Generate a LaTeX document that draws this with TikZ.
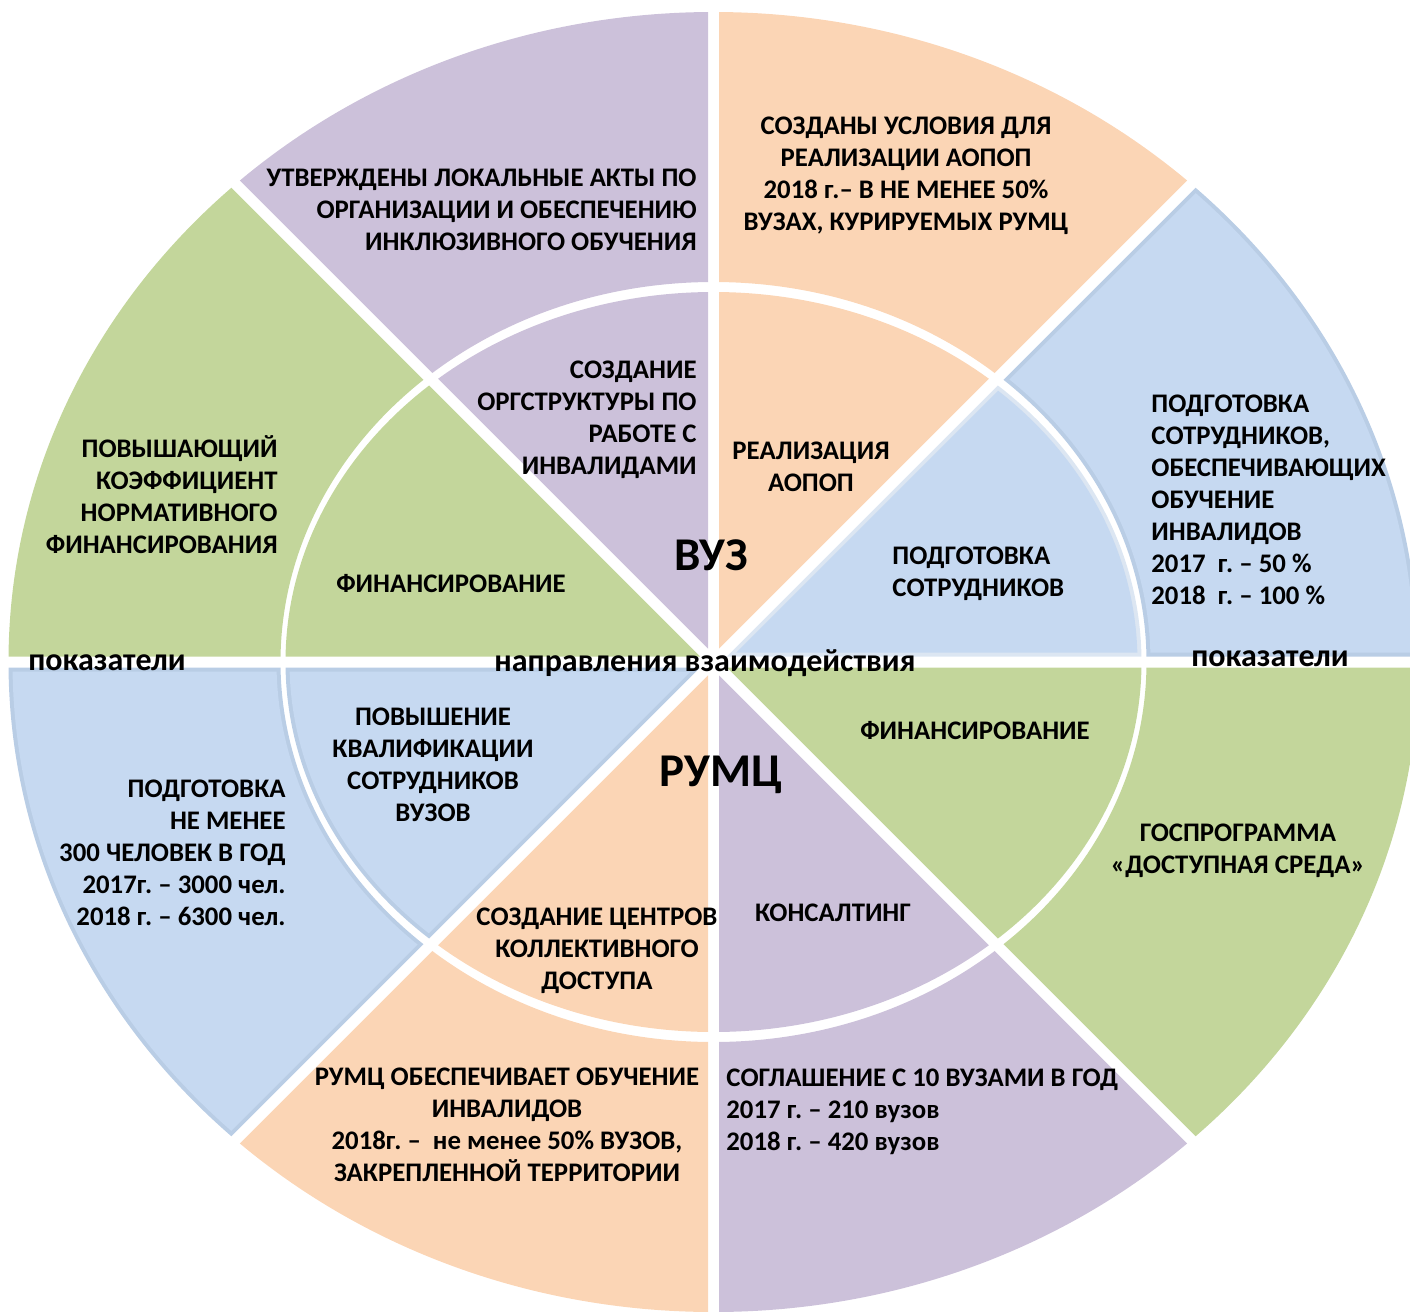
\documentclass[tikz,border=0pt]{standalone}
\usepackage{fontspec}
\setmainfont{Carlito}
\frenchspacing
\definecolor{cpur}{HTML}{CCC1DA}
\definecolor{cora}{HTML}{FBD5B5}
\definecolor{cblu}{HTML}{C6D9F1}
\definecolor{cgrn}{HTML}{C3D69B}
\definecolor{cbld}{HTML}{B9CDE5}
\definecolor{cbll}{HTML}{DCE6F2}
% #1 start angle, #2 offset px, #3 inner rx pt, #4 inner ry pt, #5 outer rx pt, #6 outer ry pt, #7 colour
\newcommand\mysect[7]{%
  \begin{scope}
    \pgfmathsetmacro\wa{#1}%
    \pgfmathsetmacro\wb{#1+45}%
    \pgfmathsetmacro\wm{#1+22.5}%
    \pgfmathsetmacro\wd{#2/sin(22.5)}%
    \clip (\wm:\wd) -- +(\wa:2500) -- +(\wb:2500) -- cycle;
    \fill[#7, even odd rule] (0,0) ellipse [x radius=#5pt, y radius=#6pt]
                             (0,0) ellipse [x radius=#3pt, y radius=#4pt];
  \end{scope}}
\tikzset{
  lbl/.style={font=\bfseries\fontsize{13.4}{16}\selectfont, inner sep=0pt},
  big/.style={font=\bfseries\fontsize{23.5}{26}\selectfont, inner sep=0pt},
  mid/.style={font=\bfseries\fontsize{16}{19}\selectfont, inner sep=0pt}
}
\begin{document}
\begin{tikzpicture}[x=0.5pt,y=-0.5pt]
\useasboundingbox (0,0) rectangle (1410,1312);
\begin{scope}
\clip (0,0) rectangle (1410,1312);
\begin{scope}[shift={(713.5,662)}]
  % outer ring
  \mysect{0}{5.5}{216.5}{190}{352.5}{325}{cgrn}
  \mysect{45}{5.5}{216.5}{190}{352.5}{325}{cpur}
  \mysect{90}{5.5}{216.5}{190}{352.5}{325}{cora}
  \mysect{135}{5.5}{216.5}{190}{352.5}{325}{cbld}
  \mysect{135}{9.5}{218.5}{192}{350.5}{323}{cblu}
  \mysect{180}{5.5}{216.5}{190}{352.5}{325}{cgrn}
  \mysect{225}{5.5}{216.5}{190}{352.5}{325}{cpur}
  \mysect{270}{5.5}{216.5}{190}{352.5}{325}{cora}
  \mysect{315}{5.5}{216.5}{190}{352.5}{325}{cbld}
  \mysect{315}{9.5}{218.5}{192}{350.5}{323}{cblu}
  % inner ring
  \mysect{0}{5.5}{1}{1}{214}{185}{cgrn}
  \mysect{45}{5.5}{1}{1}{214}{185}{cpur}
  \mysect{90}{5.5}{1}{1}{214}{185}{cora}
  \mysect{135}{5.5}{1}{1}{214}{185}{cbld}
  \mysect{135}{9.5}{1}{1}{212}{183}{cblu}
  \mysect{180}{5.5}{1}{1}{214}{185}{cgrn}
  \mysect{225}{5.5}{1}{1}{214}{185}{cpur}
  \mysect{270}{5.5}{1}{1}{214}{185}{cora}
  \mysect{315}{5.5}{1}{1}{214}{185}{cbll}
  \mysect{315}{9.5}{1}{1}{212}{183}{cblu}
\end{scope}
\end{scope}
% outer texts
\node[lbl, anchor=east, align=right] (t1) at (697,210) {УТВЕРЖДЕНЫ ЛОКАЛЬНЫЕ АКТЫ ПО\\ОРГАНИЗАЦИИ И ОБЕСПЕЧЕНИЮ\\ИНКЛЮЗИВНОГО ОБУЧЕНИЯ};
\node[lbl, align=center] (t2) at (906,176) {СОЗДАНЫ УСЛОВИЯ ДЛЯ\\РЕАЛИЗАЦИИ АОПОП\\2018 г.– В НЕ МЕНЕЕ 50\%\\ВУЗАХ, КУРИРУЕМЫХ РУМЦ};
\node[lbl, anchor=west, align=left] (t3) at (1151,500) {ПОДГОТОВКА\\СОТРУДНИКОВ,\\ОБЕСПЕЧИВАЮЩИХ\\ОБУЧЕНИЕ\\ИНВАЛИДОВ\\2017~~г. – 50 \%\\2018~~г. – 100 \%};
\node[lbl, anchor=east, align=right] (t4) at (278,495) {ПОВЫШАЮЩИЙ\\КОЭФФИЦИЕНТ\\НОРМАТИВНОГО\\ФИНАНСИРОВАНИЯ};
\node[lbl, anchor=east, align=right] (t5) at (286,853) {ПОДГОТОВКА\\НЕ МЕНЕЕ\\300 ЧЕЛОВЕК В ГОД\\2017г. – 3000 чел.\\2018 г. – 6300 чел.};
\node[lbl, align=center] (t6) at (507,1125) {РУМЦ ОБЕСПЕЧИВАЕТ ОБУЧЕНИЕ\\ИНВАЛИДОВ\\2018г. –~~не менее 50\% ВУЗОВ,\\ЗАКРЕПЛЕННОЙ ТЕРРИТОРИИ};
\node[lbl, anchor=west, align=left] (t7) at (726,1112) {СОГЛАШЕНИЕ С 10 ВУЗАМИ В ГОД\\2017 г. – 210 вузов\\2018 г. – 420 вузов};
\node[lbl, align=center] (t8) at (1238,851) {ГОСПРОГРАММА\\«ДОСТУПНАЯ СРЕДА»};
% inner texts
\node[lbl, anchor=east, align=right] (i1) at (697,420) {СОЗДАНИЕ\\ОРГСТРУКТУРЫ ПО\\РАБОТЕ С\\ИНВАЛИДАМИ};
\node[lbl, align=center] (i2) at (811,467) {РЕАЛИЗАЦИЯ\\АОПОП};
\node[lbl, anchor=west, align=left] (i3) at (892,574) {ПОДГОТОВКА\\СОТРУДНИКОВ};
\node[lbl] (i4) at (451,584) {ФИНАНСИРОВАНИЕ};
\node[lbl, align=center] (i5) at (433,765) {ПОВЫШЕНИЕ\\КВАЛИФИКАЦИИ\\СОТРУДНИКОВ\\ВУЗОВ};
\node[lbl, align=center] (i6) at (597,951) {СОЗДАНИЕ ЦЕНТРОВ\\КОЛЛЕКТИВНОГО\\ДОСТУПА};
\node[lbl] (i7) at (833,913) {КОНСАЛТИНГ};
\node[lbl] (i8) at (975,731) {ФИНАНСИРОВАНИЕ};
% big labels
\node[big] (vuz) at (711,555) {ВУЗ};
\node[big] (rumc) at (721,775) {РУМЦ};
\node[mid] (dir) at (705,663) {направления взаимодействия};
\node[mid] (pl) at (107,663) {показатели};
\node[mid] (pr) at (1270,659) {показатели};
\end{tikzpicture}
\end{document}
